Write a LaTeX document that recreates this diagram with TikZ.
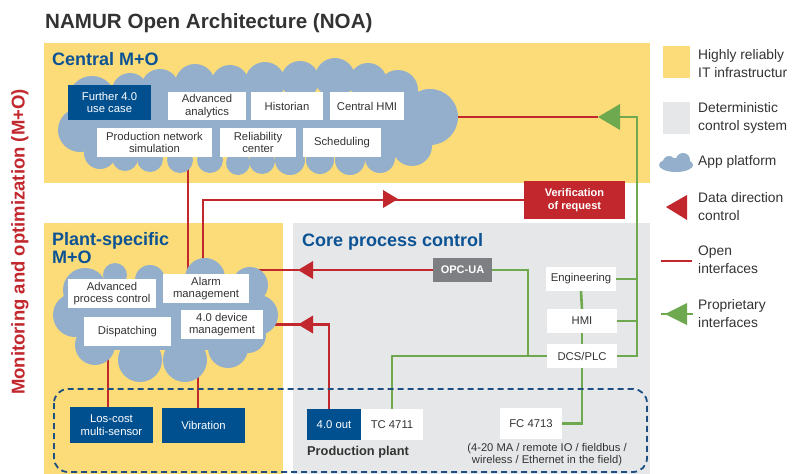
\documentclass[tikz,border=0pt]{standalone}
\usepackage{fontspec}
\setmainfont{Liberation Sans}
\usetikzlibrary{calc}
\definecolor{nyellow}{HTML}{FCDC79}
\definecolor{ngray}{HTML}{E6E7E8}
\definecolor{ncloud}{HTML}{93AFCB}
\definecolor{nblue}{HTML}{00508F}
\definecolor{ntitle}{HTML}{0B5394}
\definecolor{nred}{HTML}{C1272D}
\definecolor{ngreen}{HTML}{6FA94F}
\definecolor{nopc}{HTML}{7E7F82}
\definecolor{ntext}{HTML}{333333}
\definecolor{ndash}{HTML}{1D4F82}
\begin{document}
\begin{tikzpicture}[x=1pt,y=-1pt,
  boxfont/.style={font=\fontsize{11.3}{12.8}\selectfont},
  wbox/.style={boxfont, fill=white, text=ntext, align=center, inner sep=0pt},
  bbox/.style={boxfont, fill=nblue, text=white, align=center, inner sep=0pt},
  redbox/.style={font=\fontsize{11}{12.8}\selectfont\bfseries, fill=nred, text=white, align=center, inner sep=0pt},
  opcbox/.style={font=\fontsize{11}{12.8}\selectfont\bfseries, fill=nopc, text=white, align=center, inner sep=0pt},
  areatitle/.style={font=\fontsize{18}{17}\selectfont\bfseries, text=ntitle, align=left, inner sep=0pt},
  legtext/.style={font=\fontsize{13.8}{18}\selectfont, text=ntext, align=left, anchor=west, inner sep=0pt},
  redline/.style={draw=nred, line width=2.6pt},
  greenline/.style={draw=ngreen, line width=2.6pt},
  cloudfill/.style={fill=ncloud}
]
\useasboundingbox (0,0) rectangle (801,474);
\fill[white] (0,0) rectangle (801,474);

% title
\node[anchor=base west, inner sep=0pt, text=ntext, font=\fontsize{20.6}{24}\selectfont\bfseries] (title) at (45,28) {NAMUR Open Architecture (NOA)};

% vertical label
\node[rotate=90, inner sep=0pt, text=nred, font=\fontsize{18.5}{20}\selectfont\bfseries] (mo) at (20,242) {Monitoring and optimization (M+O)};

% areas
\fill[nyellow] (44,43) rectangle (650,183);
\fill[nyellow] (44,223) rectangle (283,474);
\fill[ngray] (293,223) rectangle (650,474);

\coordinate (cR) at (455,117);
\coordinate (gtop) at (637,117);
\coordinate (gtip) at (598,117);
\coordinate (j1) at (528,356);

% nodes that connectors attach to
\node[wbox, minimum width=115, minimum height=29] (pns) at (154.5,142.5) {Production network\\simulation};
\node[wbox, minimum width=86, minimum height=29] (alarm) at (206,288.5) {Alarm\\management};
\node[redbox, minimum width=101, minimum height=38] (ver) at (574.5,200) {Verification\\of request};
\node[opcbox, minimum width=59, minimum height=24] (opc) at (462.5,270) {OPC-UA};
\node[wbox, minimum width=82, minimum height=29] (dev) at (222,324.5) {4.0 device\\management};
\node[bbox, minimum width=83, minimum height=36] (low) at (111.5,425) {Los-cost\\multi-sensor};
\node[bbox, minimum width=83, minimum height=35] (vib) at (203.5,425.5) {Vibration};
\node[bbox, minimum width=54, minimum height=31] (out) at (334,424.5) {4.0 out};
\node[wbox, minimum width=62, minimum height=31] (tc) at (392,424.5) {TC 4711};
\node[wbox, minimum width=62, minimum height=31] (fc) at (531,423.5) {FC 4713};
\node[wbox, minimum width=70, minimum height=24] (eng) at (581,279) {Engineering};
\node[wbox, minimum width=70, minimum height=24] (hmi) at (582,321) {HMI};
\node[wbox, minimum width=70, minimum height=24] (dcs) at (582,356) {DCS/PLC};

% connectors (drawn before clouds so the clouds cover their ends)
\draw[redline] (cR) -- (gtip);
\draw[redline] ([xshift=33.5pt]pns.south) -- ([xshift=-18pt]alarm.north);
\draw[redline] ([xshift=-3pt]alarm.north) |- (ver.west);
\draw[redline] (opc.west) -- (opc.west -| alarm.east);
\draw[redline] ([xshift=-5pt]out.north) |- (dev.east);
\draw[redline] ([xshift=-3.5pt]low.north) -- ++(0,-60);
\draw[redline] ([xshift=-5.5pt]vib.north) -- ++(0,-60);

\draw[greenline] (dcs.east) -| (gtop) -- ([xshift=10pt]gtip);
\draw[greenline] (eng.east) -- (eng.east -| gtop);
\draw[greenline] (hmi.east) -- (hmi.east -| gtop);
\draw[greenline] (opc.east) -| (j1);
\draw[greenline] (dcs.west) -| (tc.north);
\draw[greenline] (eng.south) -- (hmi.north);
\draw[greenline] (hmi.south) -- (dcs.north);
\draw[greenline] (dcs.south) |- (fc.east);

% arrowheads
\fill[ngreen] (gtip) -- ++(22,-13) -- ++(0,26) -- cycle;
\fill[nred] (398,199) -- ++(-15,-9) -- ++(0,18) -- cycle;
\fill[nred] (298,270) -- ++(15,-9) -- ++(0,18) -- cycle;
\fill[nred] (298,324.5) -- ++(15,-9) -- ++(0,18) -- cycle;

% central cloud
\begin{scope}[cloudfill]
\fill (95,92) rectangle (422,155);
\fill (92,100) circle[radius=24];
\fill (80,130) circle[radius=22];
\fill (100,153) circle[radius=16];
\fill (130,91) circle[radius=18];
\fill (160,88) circle[radius=19];
\fill (195,84) circle[radius=20];
\fill (230,84) circle[radius=19];
\fill (265,82) circle[radius=20];
\fill (300,80) circle[radius=19];
\fill (335,78) circle[radius=20];
\fill (368,82) circle[radius=19];
\fill (398,90) circle[radius=20];
\fill (430,117) circle[radius=28];
\fill (412,146) circle[radius=20];
\fill (380,158) circle[radius=15];
\fill (350,160) circle[radius=15];
\fill (320,160) circle[radius=14];
\fill (290,160) circle[radius=15];
\fill (262,161) circle[radius=13];
\fill (238,163) circle[radius=12];
\fill (210,160) circle[radius=13];
\fill (180,160) circle[radius=13];
\fill (150,159) circle[radius=13];
\fill (125,158) circle[radius=13];
\end{scope}

% plant cloud
\begin{scope}[cloudfill]
\fill (85,282) rectangle (250,350);
\fill (85,290) circle[radius=22];
\fill (75,315) circle[radius=22];
\fill (95,345) circle[radius=20];
\fill (140,360) circle[radius=22];
\fill (185,360) circle[radius=22];
\fill (228,348) circle[radius=20];
\fill (248,335) circle[radius=18];
\fill (258,315) circle[radius=20];
\fill (250,285) circle[radius=18];
\fill (205,278) circle[radius=20];
\fill (150,280) circle[radius=15];
\fill (115,275) circle[radius=12];
\end{scope}

% area titles
\node[areatitle, anchor=base west] (tcentral) at (52,65) {Central M+O};
\node[areatitle, anchor=base west] (tplant) at (52,245) {Plant-specific};
\node[areatitle, anchor=base west] (tplant2) at (52,263) {M+O};
\node[areatitle, anchor=base west] (tcore) at (302,246) {Core process control};

% boxes on the clouds
\node[wbox, minimum width=115, minimum height=29] at (pns) {Production network\\simulation};
\node[wbox, minimum width=86, minimum height=29] at (alarm) {Alarm\\management};
\node[wbox, minimum width=82, minimum height=29] at (dev) {4.0 device\\management};
\node[bbox, minimum width=83, minimum height=35] (fur) at (109.5,102.5) {Further 4.0\\use case};
\node[wbox, minimum width=78, minimum height=28] (adv) at (207,106) {Advanced\\analytics};
\node[wbox, minimum width=72, minimum height=28] (hist) at (287,106) {Historian};
\node[wbox, minimum width=74, minimum height=28] (chmi) at (367,106) {Central HMI};
\node[wbox, minimum width=76, minimum height=29] (rel) at (258,142.5) {Reliability\\center};
\node[wbox, minimum width=78, minimum height=29] (sch) at (342,142.5) {Scheduling};
\node[wbox, minimum width=88, minimum height=29] (apc) at (112,293.5) {Advanced\\process control};
\node[wbox, minimum width=87, minimum height=29] (disp) at (127.5,331.5) {Dispatching};

% production plant
\node[anchor=base west, inner sep=0pt, text=ntext, font=\fontsize{12.8}{15}\selectfont\bfseries] (pp) at (307,455) {Production plant};
\node[inner sep=0pt, text=ntext, align=center, font=\fontsize{11.2}{11.8}\selectfont] (fieldnote) at (547,454.5) {(4-20 MA / remote IO / fieldbus /\\wireless / Ethernet in the field)};
\draw[ndash, line width=1.8pt, dash pattern=on 6pt off 4pt, rounded corners=14pt] (54,389) rectangle (647,472);

% legend
\fill[nyellow] (663,46) rectangle (690,78);
\node[legtext] (l1) at (698,64) {Highly reliably\\IT infrastructur};
\fill[ngray] (663,102) rectangle (690,134);
\node[legtext] (l2) at (698,118) {Deterministic\\control system};
\begin{scope}[cloudfill]
\fill (676,165) ellipse[x radius=17, y radius=7];
\fill (669,162) circle[radius=6];
\fill (683,160) circle[radius=7];
\end{scope}
\node[legtext] (l3) at (698,162) {App platform};
\fill[nred] (666,207) -- (687,195) -- (687,220) -- cycle;
\node[legtext] (l4) at (698,207) {Data direction\\control};
\draw[redline] (661,261) -- (692,261);
\node[legtext] (l5) at (698,260) {Open\\interfaces};
\draw[greenline] (661,314) -- (693,314);
\fill[ngreen] (665,314) -- (687,303) -- (687,325) -- cycle;
\node[legtext] (l6) at (698,314) {Proprietary\\interfaces};
\end{tikzpicture}
\end{document}
